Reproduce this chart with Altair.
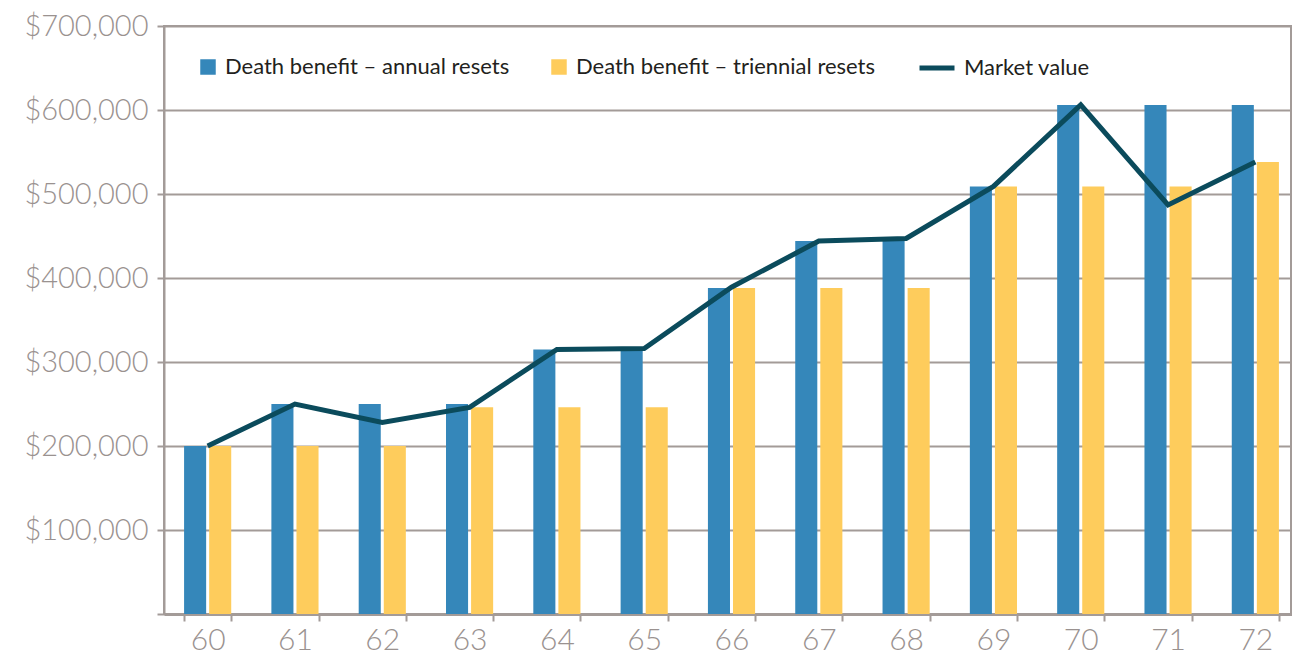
import altair as alt
import pandas as pd

ages = ["60", "61", "62", "63", "64", "65", "66", "67", "68", "69", "70", "71", "72"]
annual = [200000, 250000, 250000, 250000, 315000, 315000, 388000, 444000, 447000, 509000, 606000, 606000, 606000]
triennial = [200000, 200000, 200000, 246000, 246000, 246000, 388000, 388000, 388000, 509000, 509000, 509000, 538000]
market = [200000, 250000, 228000, 246000, 315000, 316000, 389000, 444000, 447000, 509000, 606000, 487000, 538000]

s_annual = "Death benefit \u2013 annual resets"
s_trien = "Death benefit \u2013 triennial resets"
s_market = "Market value"

rows = []
for a, v1, v2 in zip(ages, annual, triennial):
    rows.append({"age": a, "series": s_annual, "value": v1})
    rows.append({"age": a, "series": s_trien, "value": v2})
bars_df = pd.DataFrame(rows)
line_df = pd.DataFrame({"age": ages, "value": market, "series": [s_market] * len(ages)})

GRAY = "#a39b98"
LABEL_GRAY = "#9a9290"
FONT = "Lato"

xscale = alt.Scale(domain=ages, paddingInner=0.46, paddingOuter=0.23, range=[0, 1135])
yscale = alt.Scale(domain=[0, 700000], nice=False)

xaxis = alt.Axis(
    title=None, tickBand="extent", grid=False, labelAngle=0,
    labelFontSize=30, labelColor=LABEL_GRAY, labelFont=FONT, labelFontWeight=300,
    tickColor=GRAY, tickSize=7, tickWidth=2, domainColor=GRAY, domainWidth=3,
    labelPadding=4,
)
yaxis = alt.Axis(
    title=None, values=[0, 100000, 200000, 300000, 400000, 500000, 600000, 700000],
    labelExpr="datum.value == 0 ? '' : '$' + format(datum.value, ',')",
    labelFontSize=29, labelColor=LABEL_GRAY, labelFont=FONT, labelFontWeight=300,
    tickColor=GRAY, tickSize=7, tickWidth=2, domainColor=GRAY, domainWidth=2,
    gridColor=GRAY, gridWidth=2, labelPadding=9,
)

bars = alt.Chart(bars_df).mark_bar().encode(
    x=alt.X("age:N", scale=xscale, axis=xaxis, sort=ages),
    xOffset=alt.XOffset("series:N", scale=alt.Scale(domain=[s_annual, s_trien], paddingInner=0.12, paddingOuter=0)),
    y=alt.Y("value:Q", scale=yscale, axis=yaxis),
    color=alt.Color(
        "series:N",
        scale=alt.Scale(domain=[s_annual, s_trien], range=["#3587ba", "#fecc5c"]),
        legend=alt.Legend(
            title=None, orient="none", direction="horizontal", legendX=33, legendY=30,
            symbolType="square", symbolSize=240, symbolStrokeWidth=0, symbolOpacity=1,
            labelFontSize=22, labelFont=FONT, labelColor="#231f20", labelOffset=6,
            labelLimit=0, columnPadding=38,
        ),
    ),
)

line = alt.Chart(line_df).mark_line(strokeWidth=5).encode(
    x=alt.X("age:N", scale=xscale, sort=ages),
    y=alt.Y("value:Q", scale=yscale),
    stroke=alt.Stroke(
        "series:N",
        scale=alt.Scale(domain=[s_market], range=["#0b4b5c"]),
        legend=alt.Legend(
            title=None, orient="none", legendX=753, legendY=22,
            symbolType="stroke", symbolSize=1225, symbolStrokeWidth=5,
            labelFontSize=22, labelFont=FONT, labelColor="#231f20", labelOffset=7,
            labelLimit=0,
        ),
    ),
)

chart = alt.layer(bars, line).properties(
    width=1127, height=588,
    autosize=alt.AutoSizeParams(type="none"),
    padding={"left": 156, "top": 18, "right": 1, "bottom": 42},
).configure_view(stroke=GRAY, strokeWidth=2).configure_legend(padding=0)

chart.save("out.html", embed_options={"renderer": "svg", "actions": False})
